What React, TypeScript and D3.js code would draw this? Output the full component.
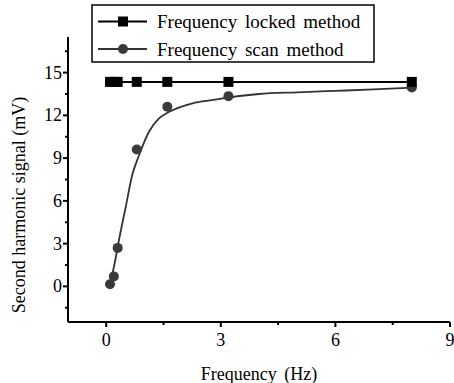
import React from 'react';
import * as d3 from 'd3';

// measured points (Hz, mV)
const freq = [0.1, 0.2, 0.3, 0.8, 1.6, 3.2, 8];
const lockedVals = [14.35, 14.35, 14.35, 14.35, 14.35, 14.35, 14.35];
const scanVals = [0.15, 0.7, 2.7, 9.6, 12.6, 13.35, 13.95];
// fitted curve
const fitX = [0.09, 0.2, 0.33, 0.51, 0.68, 0.86, 1.12, 1.39, 1.65, 2.26, 2.79, 3.49, 4.0, 5.0, 6.0, 7.0, 8.0];
const fitY = [0.12, 1.34, 3.2, 5.56, 7.8, 9.2, 10.85, 11.8, 12.25, 12.85, 13.08, 13.36, 13.5, 13.62, 13.72, 13.82, 13.95];
const xTicks = [0, 3, 6, 9];
const yTicks = [0, 3, 6, 9, 12, 15];
const legendNames = ['Frequency locked method', 'Frequency scan method'];

const W = 454;
const H = 383;
const font = 'Liberation Serif';

export default function App() {
  const x = d3.scaleLinear().domain([-1, 9]).range([68, 450]);
  const y = d3.scaleLinear().domain([-2.5, 17.5]).range([322, 37]);
  const xMinor = d3.range(-1.5, 9.01, 1.5).filter(v => v >= -1 && !xTicks.includes(v));
  const yMinor = d3.range(-1.5, 17.5, 3);

  const lockLine = d3.line<number>().x((d, i) => x(freq[i])).y(d => y(d));
  const fitLine = d3.line<number>().x((d, i) => x(fitX[i])).y(d => y(d)).curve(d3.curveMonotoneX);
  const txt = { fontFamily: "'Liberation Serif'" };

  return (
    <div style={{ position: 'absolute', left: 0, top: 0 }}>
      <svg width={W} height={H} style={{ display: 'block', background: '#fff' }}>
        {/* axes */}
        <line x1={x(-1)} x2={x(9)} y1={y(-2.5)} y2={y(-2.5)} stroke="#000" strokeWidth={2} />
        <line x1={x(-1)} x2={x(-1)} y1={y(-2.5)} y2={y(17.5)} stroke="#000" strokeWidth={2} />
        {xTicks.map(t => (
          <g key={'xt' + t}>
            <line x1={x(t)} x2={x(t)} y1={y(-2.5)} y2={y(-2.5) + 5} stroke="#000" strokeWidth={2} />
            <text x={x(t)} y={346} textAnchor="middle" fontSize={18} fontFamily={font} style={txt}>{t}</text>
          </g>
        ))}
        {xMinor.map(t => (
          <line key={'xm' + t} x1={x(t)} x2={x(t)} y1={y(-2.5)} y2={y(-2.5) + 3} stroke="#000" strokeWidth={2} />
        ))}
        {yTicks.map(t => (
          <g key={'yt' + t}>
            <line x1={x(-1) - 5} x2={x(-1)} y1={y(t)} y2={y(t)} stroke="#000" strokeWidth={2} />
            <text x={62} y={y(t) + 6} textAnchor="end" fontSize={18} fontFamily={font} style={txt}>{t}</text>
          </g>
        ))}
        {yMinor.map(t => (
          <line key={'ym' + t} x1={x(-1) - 3} x2={x(-1)} y1={y(t)} y2={y(t)} stroke="#000" strokeWidth={2} />
        ))}
        <text x={x(4)} y={380} textAnchor="middle" fontSize={18} fontFamily={font} style={{ ...txt, wordSpacing: 3 }}>Frequency (Hz)</text>
        <text transform="translate(25,205) rotate(-90)" textAnchor="middle" fontSize={18} fontFamily={font} style={txt}>Second harmonic signal (mV)</text>

        {/* scan series */}
        <path d={fitLine(fitY) || ''} fill="none" stroke="#333" strokeWidth={1.8} />
        {scanVals.map((v, i) => (
          <circle key={'c' + i} cx={x(freq[i])} cy={y(v)} r={5} fill="#3a3a3a" />
        ))}

        {/* locked series */}
        <path d={lockLine(lockedVals) || ''} fill="none" stroke="#000" strokeWidth={2} />
        {lockedVals.map((v, i) => (
          <rect key={'s' + i} x={x(freq[i]) - 5} y={y(v) - 5} width={10} height={10} fill="#000" />
        ))}

        {/* legend */}
        <rect x={92} y={5} width={282} height={57} fill="#fff" stroke="#000" strokeWidth={1.5} />
        <line x1={98} x2={147} y1={21.5} y2={21.5} stroke="#000" strokeWidth={2} />
        <rect x={118} y={16.5} width={10} height={10} fill="#000" />
        <text x={157} y={28} fontSize={19} fontFamily={font} style={{ ...txt, wordSpacing: 3 }}>{legendNames[0]}</text>
        <line x1={98} x2={147} y1={49} y2={49} stroke="#333" strokeWidth={1.8} />
        <circle cx={123} cy={49} r={5} fill="#3a3a3a" />
        <text x={157} y={55.5} fontSize={19} fontFamily={font} style={{ ...txt, wordSpacing: 3 }}>{legendNames[1]}</text>
      </svg>
    </div>
  );
}
